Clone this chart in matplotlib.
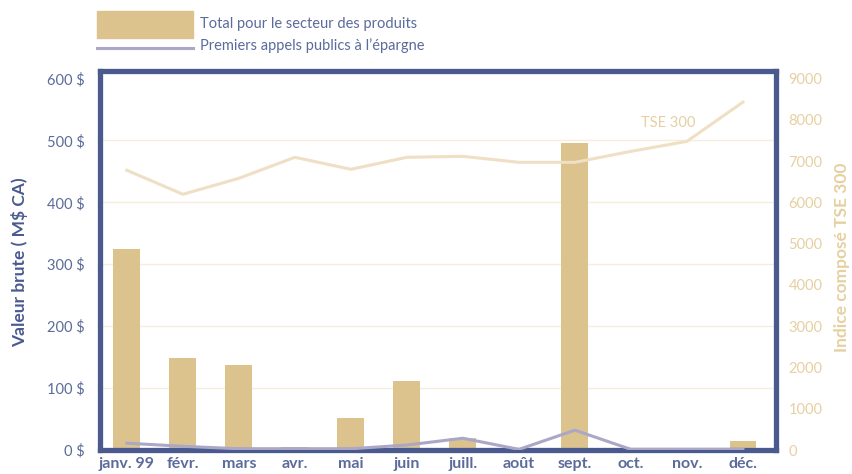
import matplotlib
matplotlib.use("Agg")
import matplotlib.pyplot as plt
from matplotlib.patches import Rectangle
from matplotlib.lines import Line2D

plt.rcParams['font.family'] = ['Lato', 'DejaVu Sans']

months = ["janv. 99", "févr.", "mars", "avr.", "mai", "juin", "juill.", "août",
          "sept.", "oct.", "nov.", "déc."]
total_secteur = [325, 148, 137, 5, 52, 112, 20, 2, 496, 1, 0, 14]
premiers_appels = [11, 6, 2, 2, 2, 8, 19, 1, 32, 1, 1, 1]
tse300 = [6775, 6194, 6581, 7090, 6799, 7090, 7113, 6968, 6968, 7234, 7476, 8427]
left_ticks = [0, 100, 200, 300, 400, 500, 600]
left_ticklabels = ["0 $", "100 $", "200 $", "300 $", "400 $", "500 $", "600 $"]
right_ticks = [0, 1000, 2000, 3000, 4000, 5000, 6000, 7000, 8000, 9000]

BAR = "#dcc38d"
FRAME = "#4a5a8f"
TICKC = "#5b6b9b"
TSE = "#efdfc4"
IPO = "#aba7c7"
RIGHTC = "#e6d0a2"
GRID = "#f6eedc"

fig = plt.figure(figsize=(8.53, 4.74), dpi=100)
ax = fig.add_axes([100/853, 1-450/474, 676/853, 379/474])
x = list(range(len(months)))

ax.bar(x, total_secteur, width=0.48, color=BAR, zorder=2)
ax.plot(x, premiers_appels, color=IPO, lw=2.2, zorder=3)
ax.set_xlim(-0.48, 11.59)
ax.set_ylim(0, 612)
ax.set_yticks(left_ticks)
ax.set_yticklabels(left_ticklabels)
for t in [100, 200, 300, 400, 500]:
    ax.axhline(t, color=GRID, lw=1, zorder=1)
ax.set_xticks(x)
ax.set_xticklabels(months, fontweight='bold')
ax.tick_params(axis='x', length=0, pad=5, labelsize=11.5, labelcolor=TICKC)
ax.tick_params(axis='y', length=0, pad=11, labelsize=10.5, labelcolor=TICKC)
for s in ax.spines.values():
    s.set_color(FRAME)
    s.set_linewidth(3.8)
    s.set_zorder(2.5)
fig.text(20/853, 1-262/474, "Valeur brute ( M$ CA)", fontsize=12.5, fontweight='bold',
         color=FRAME, rotation=90, ha='center', va='center')

ax2 = ax.twinx()
ax2.plot(x, tse300, color=TSE, lw=2.2, zorder=3)
ax2.set_ylim(0, 9180)
ax2.set_yticks(right_ticks)
ax2.tick_params(axis='y', length=0, pad=9, labelsize=10.5, labelcolor=RIGHTC)
for s in ax2.spines.values():
    s.set_visible(False)
fig.text(842/853, 1-257/474, "Indice composé TSE 300", fontsize=12.5, fontweight='bold',
         color=RIGHTC, rotation=90, ha='center', va='center')
ax2.text(9.66, 7930, "TSE 300", color=RIGHTC, fontsize=10.5, ha='center', va='center')

# legend
fig.patches.append(Rectangle((97/853, 1-38/474), 96/853, 27/474, transform=fig.transFigure,
                             color=BAR, figure=fig))
fig.lines.append(Line2D([97/853, 193/853], [1-48/474, 1-48/474], transform=fig.transFigure,
                        color=IPO, lw=2.2, figure=fig))
fig.text(200/853, 1-24/474, "Total pour le secteur des produits", color=TICKC, fontsize=10.5,
         va='center', ha='left')
fig.text(200/853, 1-46/474, "Premiers appels publics à l’épargne", color=TICKC, fontsize=10.5,
         va='center', ha='left')

fig.savefig("out.png", dpi=100)
